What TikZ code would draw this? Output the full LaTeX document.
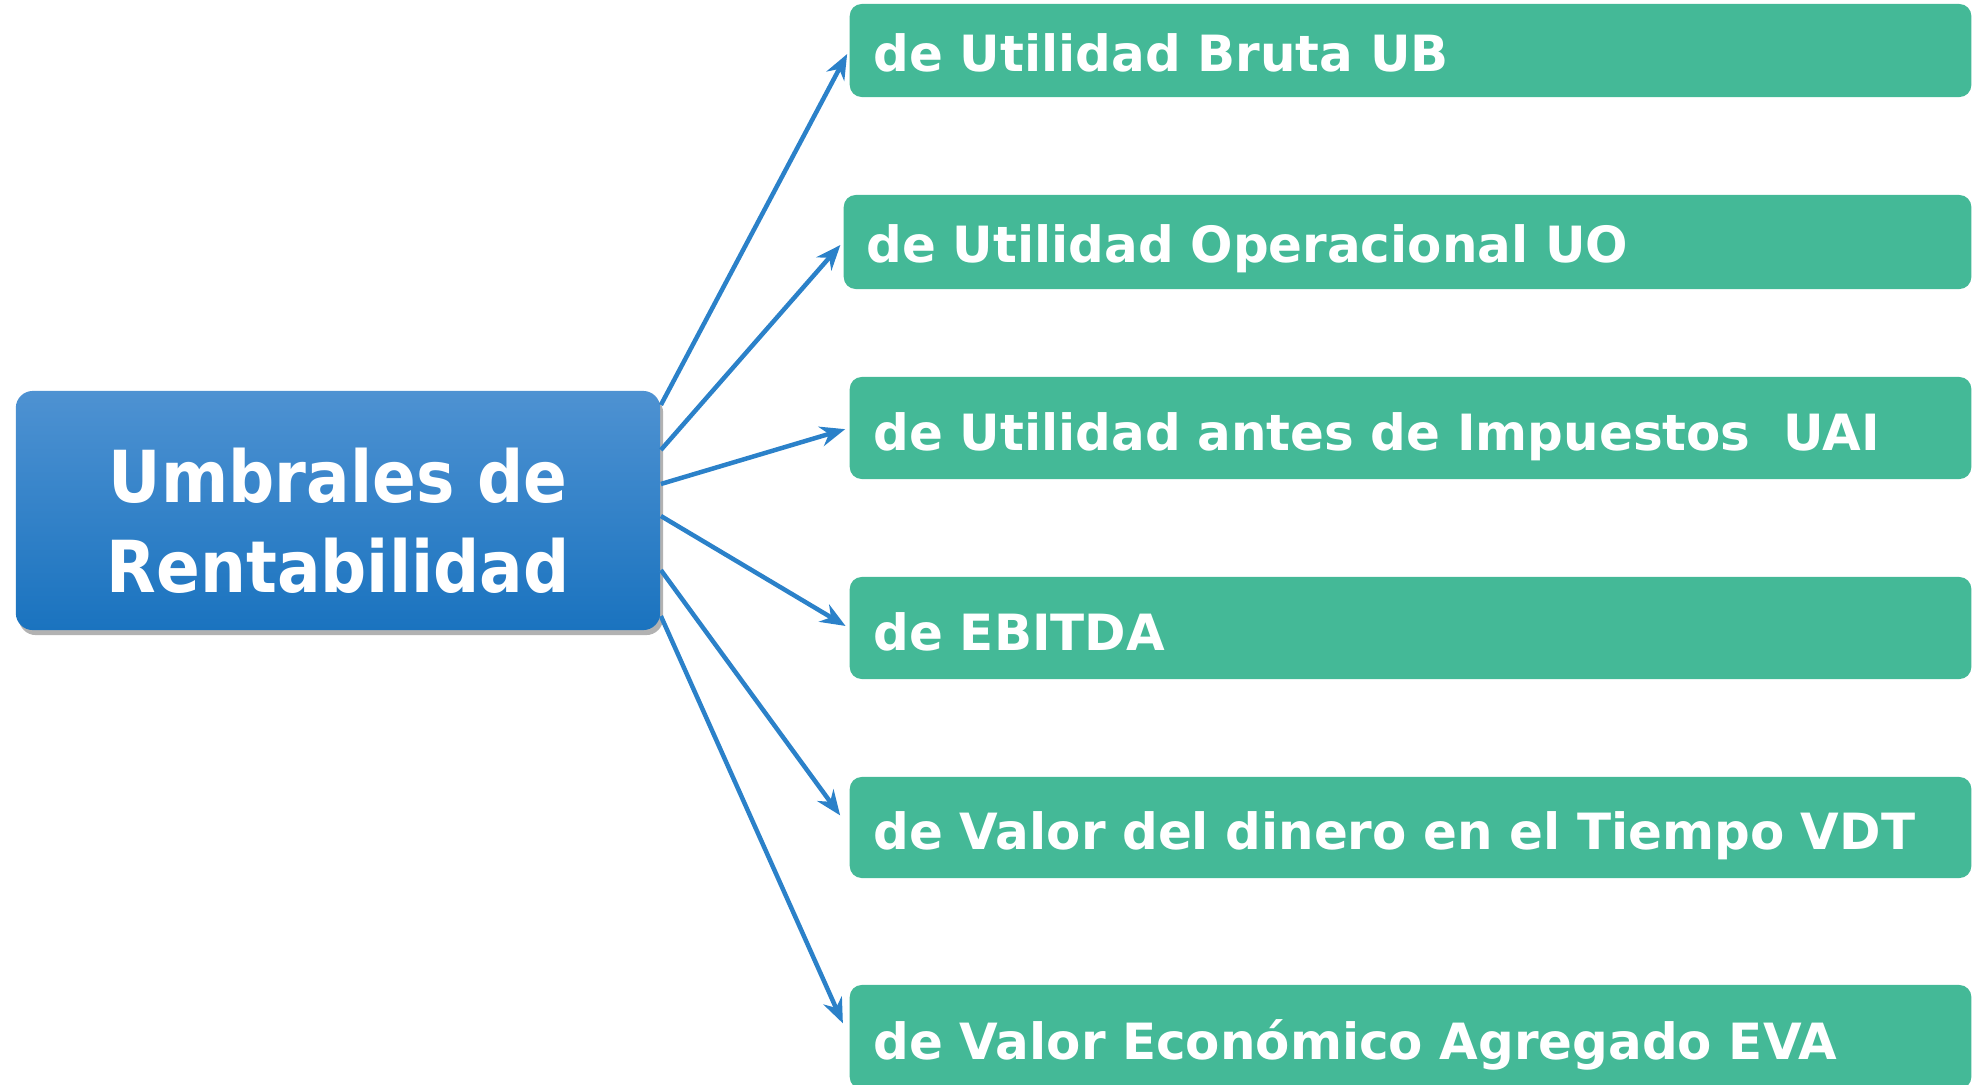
\documentclass[tikz,border=0pt]{standalone}
\usepackage{fontspec}
\setmainfont{DejaVu Sans}
\newfontfamily\narrowfont{DejaVu Sans}[FakeStretch=0.9]
\usetikzlibrary{arrows.meta,shadows}

\definecolor{umbralgreen}{HTML}{44B997}
\definecolor{umbraltop}{HTML}{4E92D2}
\definecolor{umbralbottom}{HTML}{1A73BF}
\definecolor{arrowblue}{HTML}{2B81C9}

\begin{document}
\begin{tikzpicture}[x=0.01cm, y=-0.01cm,
    mainbox/.style={rounded corners=0.17cm, top color=umbraltop, bottom color=umbralbottom,
        drop shadow={shadow xshift=0.03cm, shadow yshift=-0.05cm, fill=black, opacity=0.3},
        text=white, align=center, inner sep=0, minimum width=6.44cm, minimum height=2.39cm,
        font={\narrowfont\bfseries\fontsize{20.4}{25.6}\selectfont}},
    greenbox/.style={rounded corners=0.12cm, fill=umbralgreen, text=white, anchor=west,
        align=left, inner xsep=0.24cm, inner ysep=0, text width=10.73cm,
        text height=0.48cm, text depth=0.04cm,
        font={\bfseries\fontsize{14.2}{17}\selectfont}},
    arrowline/.style={arrowblue, line width=0.045cm, -{Stealth[length=0.25cm, width=0.2cm]}}]

    \useasboundingbox (0,0) rectangle (1972,1084);

    % main box ↓
    \node [mainbox] (umbral) at (338,510.5) {\rule{0pt}{21.3pt}Umbrales de\\Rentabilidad};

    % green boxes ↓
    \node [greenbox, minimum height=0.93cm, text height=0.46cm] (ub) at (849,50.5) {de Utilidad Bruta UB};
    \node [greenbox, minimum height=0.94cm, text height=0.44cm, inner xsep=0.23cm, text width=10.81cm] (uo) at (843,242) {de Utilidad Operacional UO};
    \node [greenbox, minimum height=1.02cm] (uai) at (849,428) {de Utilidad antes de Impuestos\ \ UAI};
    \node [greenbox, minimum height=1.02cm] (ebitda) at (849,628) {de EBITDA};
    \node [greenbox, minimum height=1.01cm] (vdt) at (849,827.5) {de Valor del dinero en el Tiempo VDT};
    \node [greenbox, minimum height=1.04cm] (eva) at (849,1037) {de Valor Económico Agregado EVA};

    % arrows ↓
    \foreach \k/\dy/\gap in {ub/1.055/0.04, uo/0.605/0.04, uai/0.265/0.04,
                             ebitda/-0.055/0.04, vdt/-0.595/0.15, eva/-1.055/0.15}
        \draw [arrowline, shorten >=\gap cm] ([yshift=\dy cm]umbral.east) -- (\k.west);

\end{tikzpicture}
\end{document}
